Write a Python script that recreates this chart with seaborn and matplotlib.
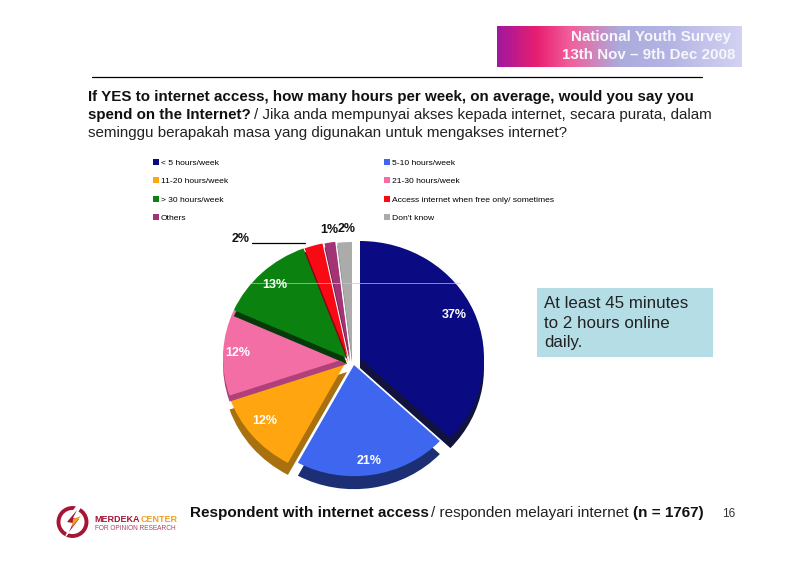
import warnings
import numpy as np
import matplotlib
matplotlib.use("Agg")
import matplotlib.pyplot as plt
from matplotlib.colors import LinearSegmentedColormap
from matplotlib.patches import Circle, Polygon, Rectangle
import seaborn as sns

warnings.filterwarnings("ignore")
sns.set_theme(style="white")
plt.rcParams["font.family"] = ["Liberation Sans", "DejaVu Sans"]

categories = ["< 5 hours/week", "5-10 hours/week", "11-20 hours/week", "21-30 hours/week",
              "> 30 hours/week", "Access internet when free only/ sometimes", "Others", "Don't know"]
values = [37.0, 20.9, 11.9, 11.9, 12.6, 2.4, 1.4, 1.9]
face_colors = ["#0A0A82", "#3F66EE", "#FFA50F", "#F46EA6", "#0B820F", "#F80A14", "#A33375", "#ABABAB"]
side_colors = ["#12123F", "#1C2F75", "#A8700E", "#B0407A", "#063A0A", "#7A0A12", "#6E2050", "#777777"]
pct_labels = ["37%", "21%", "12%", "12%", "13%", "2%", "1%", "2%"]
gradient_colors = ["#A0189E", "#E81E70", "#F2609C", "#ABABDC", "#B4B4E4", "#D2D2F2"]

W, H = 800, 565
RX, RY = 124.0, 117.0
CX, CY = 347.0, 358.0
# pixel position of each wedge's apex and its side-wall depth
apex_px = [(360, 358), (354, 365), (347, 360), (347, 358), (347, 358), (348, 358), (350, 358), (352, 359)]
radius_scale = [1.0, 0.95, 1.0, 1.0, 1.0, 1.0, 1.0, 1.0]
depth_px = [10, 13, 12, 6, 6, 4, 4, 3]
draw_order = [2, 3, 4, 5, 6, 7, 1, 0]

fig = plt.figure(figsize=(8, 5.65), dpi=100, facecolor="white")

# pie axes: one data unit equals one radius, slightly flattened
ax = fig.add_axes([0, 0, 1, 1], zorder=1)
sides, _ = ax.pie(values, colors=side_colors, startangle=90, counterclock=False, radius=1.0)
faces, _ = ax.pie(values, colors=face_colors, startangle=90, counterclock=False, radius=1.0)
ax.set_aspect("auto")
ax.set_xlim(-CX / RX, (W - CX) / RX)
ax.set_ylim(-(H - CY) / RY, CY / RY)
ax.axis("off")
for rank, i in enumerate(draw_order):
    x = (apex_px[i][0] - CX) / RX
    y = (CY - apex_px[i][1]) / RY
    faces[i].set_center((x, y))
    faces[i].set_radius(radius_scale[i])
    sides[i].set_center((x, y - depth_px[i] / RY))
    sides[i].set_radius(radius_scale[i])
    sides[i].set_zorder(2 + rank * 2)
    faces[i].set_zorder(3 + rank * 2)
    faces[i].set_edgecolor("none")
    sides[i].set_edgecolor("none")

# overlay in pixel coordinates for page furniture and text
px = fig.add_axes([0, 0, 1, 1], zorder=2)
px.set_xlim(0, W)
px.set_ylim(H, 0)
px.axis("off")

# header banner
cmap = LinearSegmentedColormap.from_list("banner", list(zip([0, 0.16, 0.3, 0.5, 0.7, 1], gradient_colors)))
px.imshow(np.linspace(0, 1, 245)[None, :], cmap=cmap, extent=(497, 742, 67, 26), aspect="auto", zorder=1)
px.set_xlim(0, W)
px.set_ylim(H, 0)
px.text(731, 37.5, "National Youth Survey", color="#F6F6FC", fontweight="bold", fontsize=10.9,
        ha="right", va="center", zorder=2)
px.text(735, 55, "13th Nov – 9th Dec 2008", color="#F6F6FC", fontweight="bold", fontsize=10.9,
        ha="right", va="center", zorder=2)

px.plot([92, 702], [77, 77], color="black", lw=0.9)

# question text
qs = 10.9
px.text(88, 97.5, "If YES to internet access, how many hours per week, on average, would you say you",
        fontweight="bold", fontsize=qs, color="#111111", va="center")
px.text(88, 115.5, "spend on the Internet?", fontweight="bold", fontsize=qs, color="#111111", va="center")
px.text(254, 115.5, "/ Jika anda mempunyai akses kepada internet, secara purata, dalam",
        fontsize=qs, color="#222222", va="center")
px.text(88, 133, "seminggu berapakah masa yang digunakan untuk mengakses internet?",
        fontsize=qs, color="#222222", va="center")

# legend, filled row by row as in the reference
order = [0, 2, 4, 6, 1, 3, 5, 7]
leg = px.legend([faces[i] for i in order], [categories[i] for i in order], ncol=2,
                loc="upper left", bbox_to_anchor=(153 / W, 1 - 159 / H), bbox_transform=fig.transFigure,
                frameon=False, handlelength=0.7, handleheight=0.7, handletextpad=0.25,
                labelspacing=1.24, columnspacing=18.4, borderpad=0, borderaxespad=0,
                prop={"size": 6.1})
for t in leg.get_texts():
    t.set_color("black")

# percent labels
label_pos = [(454, 315), (369, 461), (265, 421), (238, 353), (275, 285), (241, 239), (329, 230), (347, 229)]
label_col = ["white"] * 5 + ["#111111"] * 3
for s, (x, y), c in zip(pct_labels, label_pos, label_col):
    px.text(x, y, s, color=c, ha="center", va="center", fontweight="bold", fontsize=9, zorder=20)

# leader and faint guide
px.plot([252, 305], [243, 243], color="black", lw=0.9, zorder=15)
px.plot([250, 460], [282.5, 282.5], color="#C8C8C8", lw=0.6, alpha=0.8, zorder=15)

# annotation box
px.add_patch(Rectangle((537, 288), 176, 69, facecolor="#B5DDE5", edgecolor="none", zorder=3))
for y, s in zip([303, 323, 343], ["At least 45 minutes", "to 2 hours online", "daily."]):
    px.text(544, y, s, fontsize=12.2, color="#222222", va="center", zorder=4)

# footer
fs = 11
px.text(190, 513, "Respondent with internet access", fontweight="bold", fontsize=fs, color="#111111", va="center")
px.text(431, 513, "/ responden melayari internet", fontsize=fs, color="#222222", va="center")
px.text(633, 513, "(n = 1767)", fontweight="bold", fontsize=fs, color="#111111", va="center")
px.text(729, 514, "16", fontsize=8.5, color="#333333", ha="center", va="center")

# logo
px.add_patch(Circle((72.5, 522), 14, fill=False, edgecolor="#A51535", lw=2.8))
px.add_patch(Polygon([(77, 505), (64, 522), (71, 523), (64, 539), (82, 518), (75, 517), (82, 506)],
                     closed=True, facecolor="white", edgecolor="none", zorder=4))
px.add_patch(Polygon([(77, 510), (67, 522), (73, 523), (69, 532), (79, 519), (73, 518)],
                     closed=True, facecolor="#A51535", edgecolor="none", zorder=5))
px.add_patch(Polygon([(73, 519), (81, 516), (72, 527)], closed=True, facecolor="#F0A020", edgecolor="none", zorder=6))
px.text(94, 520, "MERDEKA", color="#A51535", fontweight="bold", fontsize=6.5, va="center")
px.text(141, 520, "CENTER", color="#EFA020", fontweight="bold", fontsize=6.5, va="center")
px.text(95, 528, "FOR OPINION RESEARCH", color="#B04060", fontsize=4.7, va="center")

fig.savefig("out.png", dpi=100, facecolor="white")
